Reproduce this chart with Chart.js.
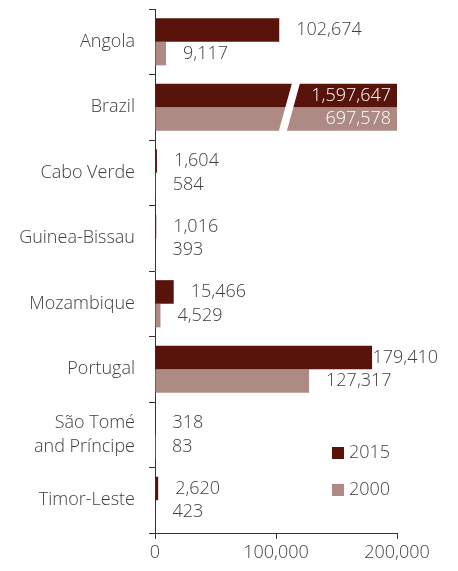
<!DOCTYPE html>
<html>
<head>
<meta charset="utf-8">
<script src="https://cdn.jsdelivr.net/npm/chart.js@4/dist/chart.umd.min.js"></script>
<style>
  html, body { margin: 0; padding: 0; background: #fff; }
  #wrap { width: 458px; height: 571px; position: relative; }
</style>
</head>
<body>
<div id="wrap"><canvas id="chart"></canvas></div>
<script>
const countries = ['Angola', 'Brazil', 'Cabo Verde', 'Guinea-Bissau', 'Mozambique', 'Portugal', ['São Tomé', 'and Príncipe'], 'Timor-Leste']
const values2015 = [102674, 1597647, 1604, 1016, 15466, 179410, 318, 2620]
const values2000 = [9117, 697578, 584, 393, 4529, 127317, 83, 423]
const xTicks = [0, 100000, 200000]
const breakAt = 107500

const textColor = '#404040'
const axisColor = '#333333'
const fontFamily = "'Open Sans', 'DejaVu Sans', sans-serif"
const fontSize = 18

// value labels next to each bar, inside (white) when the bar runs past the axis
const valueLabels = {
  id: 'valueLabels',
  afterDatasetsDraw(chart) {
    const ctx = chart.ctx
    const area = chart.chartArea
    ctx.save()
    ctx.font = '300 ' + fontSize + 'px ' + fontFamily
    ctx.textBaseline = 'middle'
    chart.data.datasets.forEach((ds, di) => {
      const meta = chart.getDatasetMeta(di)
      meta.data.forEach((bar, i) => {
        const txt = ds.data[i].toLocaleString('en-US')
        const w = ctx.measureText(txt).width
        if (bar.x > area.right) {
          ctx.fillStyle = '#ffffff'
          ctx.textAlign = 'right'
          ctx.fillText(txt, area.right - 6, bar.y)
        } else {
          let x = bar.x + 17
          x = Math.min(x, area.right + 41 - w)
          ctx.fillStyle = textColor
          ctx.textAlign = 'left'
          ctx.fillText(txt, x, bar.y)
        }
      })
    })
    ctx.restore()
  }
}

// white slanted gap across bars that are cut at the axis end
const axisBreak = {
  id: 'axisBreak',
  afterDatasetsDraw(chart) {
    const ctx = chart.ctx
    const xs = chart.scales.x
    const x0 = xs.getPixelForValue(breakAt)
    values2015.forEach((v, i) => {
      if (v <= xs.max) return
      const top = chart.getDatasetMeta(0).data[i]
      const bot = chart.getDatasetMeta(1).data[i]
      const y1 = top.y - top.height / 2 - 1
      const y2 = bot.y + bot.height / 2 + 3
      const slant = 14
      ctx.save()
      ctx.fillStyle = '#ffffff'
      ctx.beginPath()
      ctx.moveTo(x0 + slant / 2, y1)
      ctx.lineTo(x0 + slant / 2 + 8, y1)
      ctx.lineTo(x0 - slant / 2 + 8, y2)
      ctx.lineTo(x0 - slant / 2, y2)
      ctx.closePath()
      ctx.fill()
      ctx.restore()
    })
  }
}

// legend inside the plot, bottom right
const innerLegend = {
  id: 'innerLegend',
  afterDraw(chart) {
    const ctx = chart.ctx
    const area = chart.chartArea
    ctx.save()
    ctx.font = '300 ' + fontSize + 'px ' + fontFamily
    ctx.textBaseline = 'middle'
    ctx.textAlign = 'left'
    chart.data.datasets.forEach((ds, i) => {
      const x = area.right - 65
      const y = area.bottom - 80 + i * 37
      ctx.fillStyle = ds.backgroundColor
      ctx.fillRect(x, y - 6, 12, 12)
      ctx.fillStyle = textColor
      ctx.fillText(ds.label, x + 17, y)
    })
    ctx.restore()
  }
}

const graph = document.getElementById('chart')
new Chart(graph, {
  type: 'bar',
  data: {
    labels: countries,
    datasets: [
      { label: '2015', data: values2015, backgroundColor: '#58130b', categoryPercentage: 0.72, barPercentage: 1 },
      { label: '2000', data: values2000, backgroundColor: '#ae8a84', categoryPercentage: 0.72, barPercentage: 1 }
    ]
  },
  options: {
    indexAxis: 'y',
    responsive: true,
    maintainAspectRatio: false,
    animation: false,
    layout: { padding: { top: 9, right: 61, left: 0, bottom: 0 } },
    plugins: {
      legend: { display: false },
      tooltip: { enabled: false }
    },
    scales: {
      x: {
        min: 0,
        max: 200000,
        afterBuildTicks(scale) { scale.ticks = xTicks.map(v => ({ value: v })) },
        afterFit(scale) { scale.height = 38 },
        ticks: {
          color: textColor,
          font: { family: fontFamily, size: fontSize, weight: 300 },
          padding: 3,
          maxRotation: 0,
          callback: v => v.toLocaleString('en-US')
        },
        grid: { drawOnChartArea: false, drawTicks: true, tickLength: 6, color: axisColor },
        border: { color: axisColor, width: 1 }
      },
      y: {
        afterFit(scale) {
          scale.width = 155
          scale.paddingTop = 0
          scale.paddingBottom = 0
        },
        ticks: {
          color: textColor,
          font: { family: fontFamily, size: fontSize, weight: 300, lineHeight: 1.3 },
          padding: 14
        },
        grid: { offset: true, drawOnChartArea: false, drawTicks: true, tickLength: 6, color: axisColor },
        border: { color: axisColor, width: 1 }
      }
    }
  },
  plugins: [valueLabels, axisBreak, innerLegend]
})
</script>
</body>
</html>
